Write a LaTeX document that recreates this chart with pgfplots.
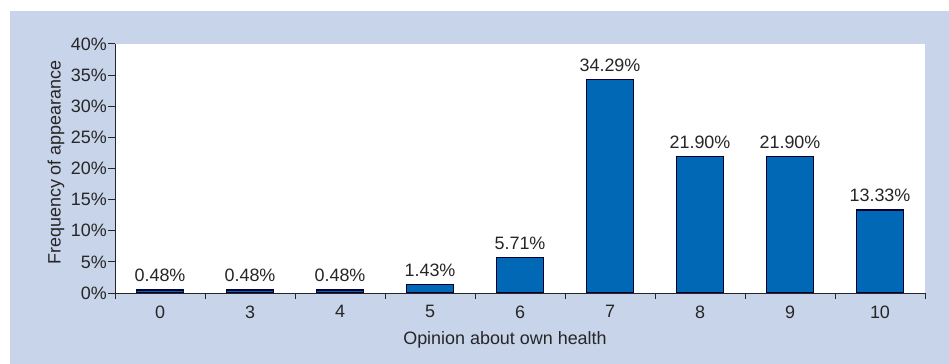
\documentclass[border=0pt]{standalone}
\usepackage{fontspec}
\setmainfont{Liberation Sans}
\usepackage{pgfplots}
\pgfplotsset{compat=1.18}
\definecolor{bgblue}{RGB}{200,212,234}
\definecolor{barblue}{RGB}{0,104,180}
\definecolor{txt}{RGB}{38,38,38}
\begin{document}
\begin{tikzpicture}
\fill[white] (0,0) rectangle (949bp,364bp);
\fill[bgblue] (10bp,0) rectangle (949bp,353bp);
\begin{axis}[
  at={(115bp,71bp)}, anchor=south west,
  scale only axis, width=810bp, height=249bp,
  xmin=-0.5, xmax=8.5, ymin=0, ymax=40,
  axis background/.style={fill=white},
  axis x line*=bottom, axis y line*=left,
  axis line style={txt, line width=1pt},
  xtick={0,1,2,3,4,5,6,7,8},
  xticklabels={0,3,4,5,6,7,8,9,10},
  major x tick style={draw=none},
  minor xtick={-0.5,0.5,...,8.5},
  minor tick length=6bp,
  minor x tick style={txt, line width=1pt},
  ytick={0,5,...,40},
  major tick length=7bp,
  major y tick style={txt, line width=1pt},
  tick align=outside,
  yticklabel={\pgfmathprintnumber{\tick}\%},
  /pgf/number format/assume math mode=true,
  tick label style={font=\fontsize{18}{21}\selectfont, text=txt},
  yticklabel style={inner sep=1bp},
  xticklabel style={yshift=-2bp},
  label style={font=\fontsize{18}{21}\selectfont, text=txt},
  xlabel={Opinion about own health},
  ylabel={Frequency of appearance},
  xlabel style={yshift=-6bp, xshift=-15bp},
  ylabel style={yshift=2bp, xshift=6bp},
  ybar, bar width=47bp,
  nodes near coords={\pgfmathprintnumber[fixed,fixed zerofill,precision=2]{\pgfplotspointmeta}\%},
  nodes near coords style={font=\fontsize{18}{21}\selectfont, text=txt, yshift=4bp, /pgf/number format/assume math mode=true},
]
\addplot[fill=barblue, draw=black!80!blue, line width=1.2pt] coordinates {
(0,0.48) (1,0.48) (2,0.48) (3,1.43) (4,5.71) (5,34.29) (6,21.90) (7,21.90) (8,13.33)
};
\end{axis}
\end{tikzpicture}
\end{document}
